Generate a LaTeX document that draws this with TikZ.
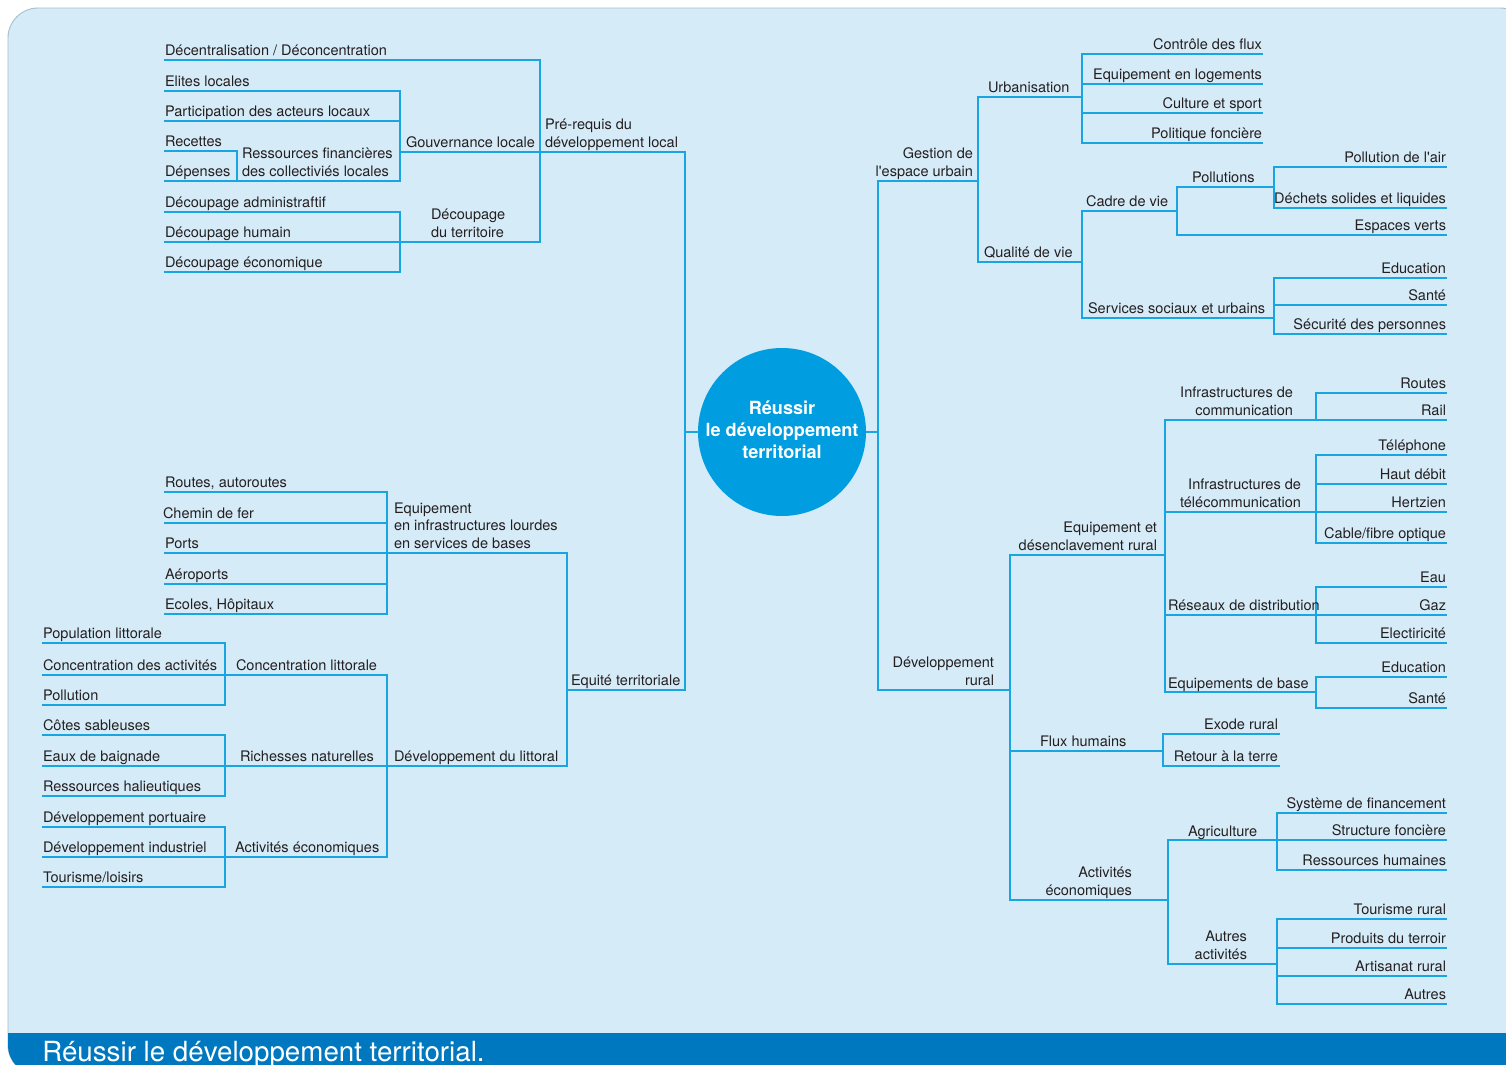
\documentclass[tikz,border=0pt]{standalone}
\usepackage{fontspec}
\setmainfont{TeX Gyre Heros}
\definecolor{panelbg}{RGB}{214,235,248}
\definecolor{panelrim}{RGB}{165,192,208}
\definecolor{linec}{RGB}{25,165,225}
\definecolor{circ}{RGB}{0,158,224}
\definecolor{band}{RGB}{0,120,192}
\definecolor{txt}{RGB}{35,31,32}
\begin{document}
\begin{tikzpicture}[x=0.75pt,y=-0.75pt,
  t/.style={inner sep=0pt, outer sep=0pt, font=\fontsize{10.9}{13.1}\selectfont, text=txt},
  tl/.style={t, anchor=base west, align=left},
  tr/.style={t, anchor=base east, align=right},
  ln/.style={draw=linec, line width=1.15pt, line cap=rect}]
\useasboundingbox (0,0) rectangle (1506,1064);
\fill[white] (0,0) rectangle (1506,1064);
% panel
\path[fill=panelbg, draw=panelrim, line width=0.7pt, rounded corners=22.5pt] (8,1075) -- (8,8) -- (1530,8) -- (1530,1075) -- cycle;
\begin{scope}
  \clip[rounded corners=22.5pt] (8,1075) -- (8,8) -- (1530,8) -- (1530,1075) -- cycle;
  \fill[band] (0,1033) rectangle (1530,1080);
\end{scope}
\node[inner sep=0pt, anchor=base west, text=white, font=\fontsize{20.8}{24}\selectfont] (title) at (42,1061) {Réussir le développement territorial.};

% centre
\node[circle, fill=circ, minimum size=126pt, inner sep=0pt] (c) at (782,432) {};
\node[inner sep=0pt, text=white, align=center,
  font=\bfseries\fontsize{13.6}{16.5}\selectfont] (ctext) at (782,429.5) {Réussir\\le développement\\territorial};

% ---------------- left top ----------------
\draw[ln] (c.west) -- (685,432);
\draw[ln] (685,152) -- (685,690);
\draw[ln] (165,60) -- (540,60);
\draw[ln] (540,60) -- (540,242);
\draw[ln] (165,91) -- (400,91);
\draw[ln] (165,121) -- (400,121);
\draw[ln] (165,151) -- (237,151) -- (237,181);
\draw[ln] (165,181) -- (400,181);
\draw[ln] (400,91) -- (400,181);
\draw[ln] (400,152) -- (685,152);
\draw[ln] (165,212) -- (400,212);
\draw[ln] (165,242) -- (540,242);
\draw[ln] (165,272) -- (400,272);
\draw[ln] (400,212) -- (400,272);

\node[tl] (n1) at (165,55) {Décentralisation / Déconcentration};
\node[tl] (n2) at (165,86) {Elites locales};
\node[tl] (n3) at (165,116) {Participation des acteurs locaux};
\node[tl] (n4) at (165,146) {Recettes};
\node[tl] (n5) at (165,176) {Dépenses};
\node[tl] (n6) at (242,176) {Ressources financières\\des collectiviés locales};
\node[tl] (n7) at (406,147) {Gouvernance locale};
\node[tl] (n8) at (545,147) {Pré-requis du\\développement local};
\node[tl] (n9) at (165,207) {Découpage administraftif};
\node[tl] (n10) at (165,237) {Découpage humain};
\node[tl] (n11) at (165,267) {Découpage économique};
\node[tl] (n12) at (431,237) {Découpage\\du territoire};

% ---------------- left bottom ----------------
\draw[ln] (165,492) -- (387,492);
\draw[ln] (165,523) -- (387,523);
\draw[ln] (165,553) -- (567,553);
\draw[ln] (165,584) -- (387,584);
\draw[ln] (165,614) -- (387,614);
\draw[ln] (387,492) -- (387,614);
\draw[ln] (567,553) -- (567,766);
\draw[ln] (567,690) -- (685,690);
\draw[ln] (43,766) -- (567,766);
\draw[ln] (387,675) -- (387,857);
\draw[ln] (43,675) -- (387,675);
\draw[ln] (43,857) -- (387,857);
\draw[ln] (43,643) -- (225,643);
\draw[ln] (43,705) -- (225,705);
\draw[ln] (225,643) -- (225,705);
\draw[ln] (43,735) -- (225,735);
\draw[ln] (43,796) -- (225,796);
\draw[ln] (225,735) -- (225,796);
\draw[ln] (43,827) -- (225,827);
\draw[ln] (43,887) -- (225,887);
\draw[ln] (225,827) -- (225,887);

\node[tl] (m1) at (165,487) {Routes, autoroutes};
\node[tl] (m2) at (163,518) {Chemin de fer};
\node[tl] (m3) at (165,548) {Ports};
\node[tl] (m4) at (165,579) {Aéroports};
\node[tl] (m5) at (165,609) {Ecoles, Hôpitaux};
\node[tl] (m6) at (394,548) {Equipement\\en infrastructures lourdes\\en services de bases};
\node[tl] (m7) at (571,685) {Equité territoriale};
\node[tl] (m8) at (394,761) {Développement du littoral};
\node[tl] (m9) at (236,670) {Concentration littorale};
\node[tl] (m10) at (240,761) {Richesses naturelles};
\node[tl] (m11) at (235,852) {Activités économiques};
\node[tl] (m12) at (43,638) {Population littorale};
\node[tl] (m13) at (43,670) {Concentration des activités};
\node[tl] (m14) at (43,700) {Pollution};
\node[tl] (m15) at (43,730) {Côtes sableuses};
\node[tl] (m16) at (43,761) {Eaux de baignade};
\node[tl] (m17) at (43,791) {Ressources halieutiques};
\node[tl] (m18) at (43,822) {Développement portuaire};
\node[tl] (m19) at (43,852) {Développement industriel};
\node[tl] (m20) at (43,882) {Tourisme/loisirs};

% ---------------- right top ----------------
\draw[ln] (c.east) -- (878,432);
\draw[ln] (878,181) -- (878,690);
\draw[ln] (878,181) -- (978,181);
\draw[ln] (978,97) -- (978,262);
\draw[ln] (978,97) -- (1082,97);
\draw[ln] (1082,54) -- (1082,143);
\draw[ln] (1082,54) -- (1262,54);
\draw[ln] (1082,84) -- (1262,84);
\draw[ln] (1082,113) -- (1262,113);
\draw[ln] (1082,143) -- (1262,143);
\draw[ln] (978,262) -- (1082,262);
\draw[ln] (1082,211) -- (1082,318);
\draw[ln] (1082,211) -- (1177,211);
\draw[ln] (1177,187) -- (1177,235);
\draw[ln] (1177,187) -- (1274,187);
\draw[ln] (1274,167) -- (1274,208);
\draw[ln] (1274,167) -- (1446,167);
\draw[ln] (1274,208) -- (1446,208);
\draw[ln] (1177,235) -- (1446,235);
\draw[ln] (1082,318) -- (1274,318);
\draw[ln] (1274,278) -- (1274,334);
\draw[ln] (1274,278) -- (1446,278);
\draw[ln] (1274,305) -- (1446,305);
\draw[ln] (1274,334) -- (1446,334);

\node[tr] (r1) at (973,176) {Gestion de\\l\textquotesingle espace urbain};
\node[tl] (r2) at (988,92) {Urbanisation};
\node[tr] (r3) at (1262,49) {Contrôle des flux};
\node[tr] (r4) at (1262,79) {Equipement en logements};
\node[tr] (r5) at (1262,108) {Culture et sport};
\node[tr] (r6) at (1262,138) {Politique foncière};
\node[tl] (r7) at (984,257) {Qualité de vie};
\node[tl] (r8) at (1086,206) {Cadre de vie};
\node[tl] (r9) at (1192,182) {Pollutions};
\node[tr] (r10) at (1446,162) {Pollution de l\textquotesingle air};
\node[tr] (r11) at (1446,203) {Déchets solides et liquides};
\node[tr] (r12) at (1446,230) {Espaces verts};
\node[tl] (r13) at (1088,313) {Services sociaux et urbains};
\node[tr] (r14) at (1446,273) {Education};
\node[tr] (r15) at (1446,300) {Santé};
\node[tr] (r16) at (1446,329) {Sécurité des personnes};

% ---------------- right bottom ----------------
\draw[ln] (878,690) -- (1010,690);
\draw[ln] (1010,555) -- (1010,900);
\draw[ln] (1010,555) -- (1165,555);
\draw[ln] (1165,420) -- (1165,692);
\draw[ln] (1165,420) -- (1446,420);
\draw[ln] (1316,393) -- (1316,420);
\draw[ln] (1316,393) -- (1446,393);
\draw[ln] (1165,512) -- (1446,512);
\draw[ln] (1316,455) -- (1316,543);
\draw[ln] (1316,455) -- (1446,455);
\draw[ln] (1316,484) -- (1446,484);
\draw[ln] (1316,543) -- (1446,543);
\draw[ln] (1165,615) -- (1446,615);
\draw[ln] (1316,587) -- (1316,643);
\draw[ln] (1316,587) -- (1446,587);
\draw[ln] (1316,643) -- (1446,643);
\draw[ln] (1165,692) -- (1316,692);
\draw[ln] (1316,677) -- (1316,708);
\draw[ln] (1316,677) -- (1446,677);
\draw[ln] (1316,708) -- (1446,708);
\draw[ln] (1010,751) -- (1163,751);
\draw[ln] (1163,734) -- (1163,766);
\draw[ln] (1163,734) -- (1279,734);
\draw[ln] (1163,766) -- (1279,766);
\draw[ln] (1010,900) -- (1168,900);
\draw[ln] (1168,840) -- (1168,964);
\draw[ln] (1168,840) -- (1446,840);
\draw[ln] (1277,813) -- (1277,870);
\draw[ln] (1277,813) -- (1446,813);
\draw[ln] (1277,870) -- (1446,870);
\draw[ln] (1168,964) -- (1277,964);
\draw[ln] (1277,919) -- (1277,1004);
\draw[ln] (1277,919) -- (1446,919);
\draw[ln] (1277,948) -- (1446,948);
\draw[ln] (1277,976) -- (1446,976);
\draw[ln] (1277,1004) -- (1446,1004);

\node[tr] (s1) at (994,685) {Développement\\rural};
\node[tr] (s2) at (1157,550) {Equipement et\\désenclavement rural};
\node[tr] (s3) at (1293,415) {Infrastructures de\\communication};
\node[tr] (s4) at (1446,388) {Routes};
\node[tr] (s5) at (1446,415) {Rail};
\node[tr] (s6) at (1301,507) {Infrastructures de\\télécommunication};
\node[tr] (s7) at (1446,450) {Téléphone};
\node[tr] (s8) at (1446,479) {Haut débit};
\node[tr] (s9) at (1446,507) {Hertzien};
\node[tr] (s10) at (1446,538) {Cable/fibre optique};
\node[tl] (s11) at (1168,610) {Réseaux de distribution};
\node[tr] (s12) at (1446,582) {Eau};
\node[tr] (s13) at (1446,610) {Gaz};
\node[tr] (s14) at (1446,638) {Electiricité};
\node[tl] (s15) at (1168,688) {Equipements de base};
\node[tr] (s16) at (1446,672) {Education};
\node[tr] (s17) at (1446,703) {Santé};
\node[tl] (s18) at (1040,746) {Flux humains};
\node[tr] (s19) at (1278,729) {Exode rural};
\node[tr] (s20) at (1278,761) {Retour à la terre};
\node[tr] (s21) at (1132,895) {Activités\\économiques};
\node[tl] (s22) at (1188,836) {Agriculture};
\node[tr] (s23) at (1446,808) {Système de financement};
\node[tr] (s24) at (1446,835) {Structure foncière};
\node[tr] (s25) at (1446,865) {Ressources humaines};
\node[tr] (s26) at (1247,959) {Autres\\activités};
\node[tr] (s27) at (1446,914) {Tourisme rural};
\node[tr] (s28) at (1446,943) {Produits du terroir};
\node[tr] (s29) at (1446,971) {Artisanat rural};
\node[tr] (s30) at (1446,999) {Autres};
\end{tikzpicture}
\end{document}
